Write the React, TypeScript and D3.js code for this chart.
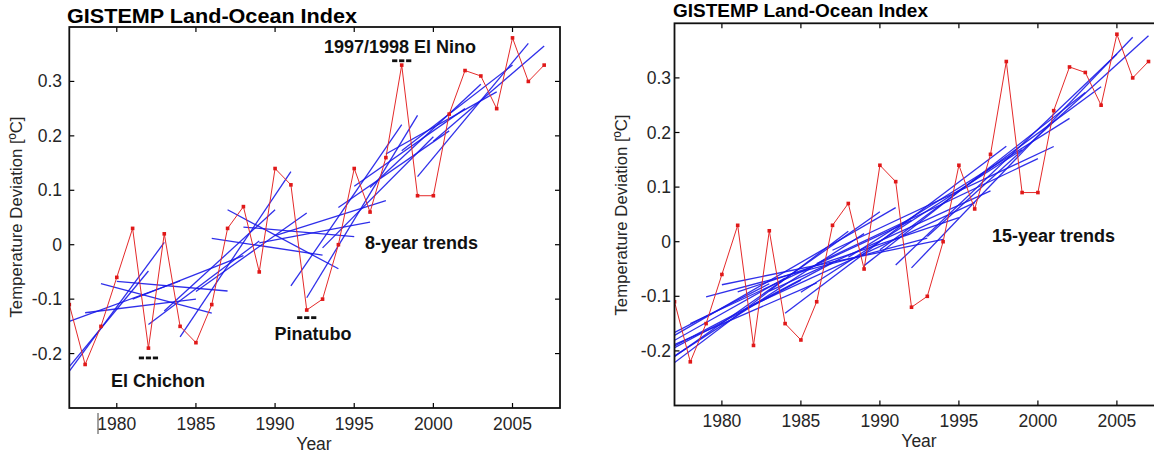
import React from "react";
import * as d3 from "d3";

// Annual GISTEMP land-ocean anomaly (deg C) as plotted
const years = [1977, 1978, 1979, 1980, 1981, 1982, 1983, 1984, 1985, 1986, 1987, 1988, 1989, 1990, 1991, 1992, 1993, 1994, 1995, 1996, 1997, 1998, 1999, 2000, 2001, 2002, 2003, 2004, 2005, 2006, 2007];
const anomaly = [-0.11, -0.22, -0.15, -0.06, 0.03, -0.19, 0.02, -0.15, -0.18, -0.11, 0.03, 0.07, -0.05, 0.14, 0.11, -0.12, -0.10, 0.0, 0.14, 0.06, 0.16, 0.33, 0.09, 0.09, 0.24, 0.32, 0.31, 0.25, 0.38, 0.30, 0.33];
// Years left of the axis (not drawn), estimated from the clipped trend lines
const earlyYears = [1969, 1970, 1971, 1972, 1973, 1974, 1975, 1976];
const earlyAnomaly = [-0.16, -0.21, -0.34, -0.24, -0.10, -0.32, -0.28, -0.39];

// Start years of the trend windows
const starts8 = [1975, 1976, 1977, 1978, 1979, 1980, 1981, 1982, 1983, 1984, 1985, 1986, 1987, 1988, 1989, 1990, 1991, 1992, 1993, 1994, 1995, 1996, 1997, 1998, 1999, 2000];
const starts15 = [1969, 1970, 1971, 1972, 1973, 1974, 1975, 1976, 1977, 1978, 1979, 1980, 1981, 1982, 1983, 1984, 1985, 1986, 1987, 1988, 1989, 1990, 1991, 1992, 1993];

const xTicks = [1980, 1985, 1990, 1995, 2000, 2005];
const yTicks = [-0.2, -0.1, 0, 0.1, 0.2, 0.3];

const titleText = "GISTEMP Land-Ocean Index";
const xLabel = "Year";
const yLabel = "Temperature Deviation [ºC]";

// Event dash marks: year and level
const eventYears = [1982, 1992, 1998];
const eventLevels = [-0.208, -0.134, 0.338];

const allYears = earlyYears.concat(years);
const allValues = earlyAnomaly.concat(anomaly);
const valueOf = new Map(allYears.map((y, i) => [y, allValues[i]]));

function fit(s: number, n: number) {
  const xs: number[] = [];
  const ys: number[] = [];
  for (let t = s; t < s + n; t++) {
    if (valueOf.has(t)) {
      xs.push(t);
      ys.push(valueOf.get(t) as number);
    }
  }
  const mx = d3.mean(xs) as number;
  const my = d3.mean(ys) as number;
  let sxy = 0, sxx = 0;
  xs.forEach((x, i) => {
    sxy += (x - mx) * (ys[i] - my);
    sxx += (x - mx) * (x - mx);
  });
  const b = sxy / sxx;
  const x1 = s, x2 = s + n - 1;
  return [
    [x1, my + b * (x1 - mx)],
    [x2, my + b * (x2 - mx)],
  ];
}

const FONT = "'Liberation Sans', Arial, Helvetica, sans-serif";

type PanelProps = {
  id: string;
  xr: [number, number];
  yr: [number, number];
  starts: number[];
  n: number;
  title: { x: number; y: number; size: number; len: number };
  tickY: number;
  yLabelX: number;
  yLabelY: number;
  yearX: number;
  yearY: number;
  yTickRight: number;
  dashes?: boolean;
  children?: React.ReactNode;
};

function Dash({ cx, cy }: { cx: number; cy: number }) {
  return (
    <g>
      {[-1, 0, 1].map((k) => (
        <rect key={k} x={cx + k * 7 - 2.6} y={cy - 1.4} width={5.2} height={2.8} fill="#111" />
      ))}
    </g>
  );
}

function Panel(p: PanelProps) {
  const x = d3.scaleLinear().domain([1977, 2008]).range(p.xr);
  const y = d3.scaleLinear().domain([-0.3, 0.4]).range(p.yr);
  const line = d3.line<number[]>().x((d) => x(d[0])).y((d) => y(d[1]));
  const pts = years.map((yr, i) => [yr, anomaly[i]]);
  const [x0, x1] = p.xr;
  const [yb, yt] = p.yr;
  const tl = 5;
  return (
    <g>
      <defs>
        <clipPath id={p.id}>
          <rect x={x0} y={yt} width={x1 - x0} height={yb - yt} />
        </clipPath>
      </defs>
      <text x={p.title.x} y={p.title.y} fontFamily={FONT} fontWeight="bold" fontSize={p.title.size} textLength={p.title.len} lengthAdjust="spacingAndGlyphs" fill="#000">
        {titleText}
      </text>
      <rect x={x0} y={yt} width={x1 - x0} height={yb - yt} fill="#fff" />
      <g clipPath={`url(#${p.id})`}>
        {p.starts.map((s) => (
          <path key={s} d={line(fit(s, p.n)) || ""} stroke="#1818e8" strokeWidth={1.3} fill="none" strokeOpacity={0.9} />
        ))}
        <path d={line(pts) || ""} stroke="#e42a2a" strokeWidth={1} fill="none" />
        {pts.map((d) => (
          <rect key={d[0]} x={x(d[0]) - 1.8} y={y(d[1]) - 1.8} width={3.6} height={3.6} fill="#e01818" />
        ))}
      </g>
      {p.dashes && (
        <g>
          {eventYears.map((ev, i) => (
            <Dash key={ev} cx={x(ev)} cy={y(eventLevels[i])} />
          ))}
        </g>
      )}
      {xTicks.map((t) => (
        <g key={t}>
          <line x1={x(t)} x2={x(t)} y1={yb} y2={yb - tl} stroke="#000" strokeWidth={1.2} />
          <line x1={x(t)} x2={x(t)} y1={yt} y2={yt + tl} stroke="#000" strokeWidth={1.2} />
          <text x={x(t)} y={p.tickY} textAnchor="middle" fontFamily={FONT} fontSize={17.5} fill="#262626">
            {t}
          </text>
        </g>
      ))}
      {yTicks.map((t) => (
        <g key={t}>
          <line x1={x0} x2={x0 + tl} y1={y(t)} y2={y(t)} stroke="#000" strokeWidth={1.2} />
          <line x1={x1} x2={x1 - tl} y1={y(t)} y2={y(t)} stroke="#000" strokeWidth={1.2} />
          <text x={p.yTickRight} y={y(t) + 6} textAnchor="end" fontFamily={FONT} fontSize={17.5} fill="#262626">
            {t === 0 ? "0" : t.toFixed(1)}
          </text>
        </g>
      ))}
      <rect x={x0} y={yt} width={x1 - x0} height={yb - yt} fill="none" stroke="#111" strokeWidth={1.8} />
      <text x={p.yearX} y={p.yearY} textAnchor="middle" fontFamily={FONT} fontSize={17.5} fill="#262626">
        {xLabel}
      </text>
      <text transform={`translate(${p.yLabelX},${p.yLabelY}) rotate(-90)`} textAnchor="middle" fontFamily={FONT} fontSize={16.8} fill="#262626">
        {yLabel}
      </text>
      {p.children}
    </g>
  );
}

const annoStyle = { fontFamily: FONT, fontWeight: "bold" as const, fontSize: 18, fill: "#111" };

export default function App() {
  return (
    <svg width={1154} height={454} style={{ position: "absolute", left: 0, top: 0, background: "#fff" }}>
      <rect x={0} y={0} width={1154} height={454} fill="#fff" />
      <Panel
        id="clipL"
        xr={[69.3, 560]}
        yr={[408, 27]}
        starts={starts8}
        n={8}
        title={{ x: 67, y: 23, size: 21, len: 290 }}
        tickY={430}
        yLabelX={22}
        yLabelY={217}
        yearX={314}
        yearY={450}
        yTickRight={62}
        dashes
      >
        <line x1={98} x2={98} y1={413} y2={434} stroke="#444" strokeWidth={1} />
        <text x={400} y={53} textAnchor="middle" {...annoStyle}>1997/1998 El Nino</text>
        <text x={365} y={249} {...annoStyle}>8-year trends</text>
        <text x={313} y={340} textAnchor="middle" {...annoStyle}>Pinatubo</text>
        <text x={158} y={387} textAnchor="middle" {...annoStyle}>El Chichon</text>
      </Panel>
      <Panel
        id="clipR"
        xr={[674.5, 1164.3]}
        yr={[405.5, 23.3]}
        starts={starts15}
        n={15}
        title={{ x: 673, y: 17, size: 18.5, len: 255 }}
        tickY={427}
        yLabelX={627}
        yLabelY={215}
        yearX={919}
        yearY={447}
        yTickRight={671}
      >
        <text x={992} y={242} {...annoStyle}>15-year trends</text>
      </Panel>
    </svg>
  );
}
